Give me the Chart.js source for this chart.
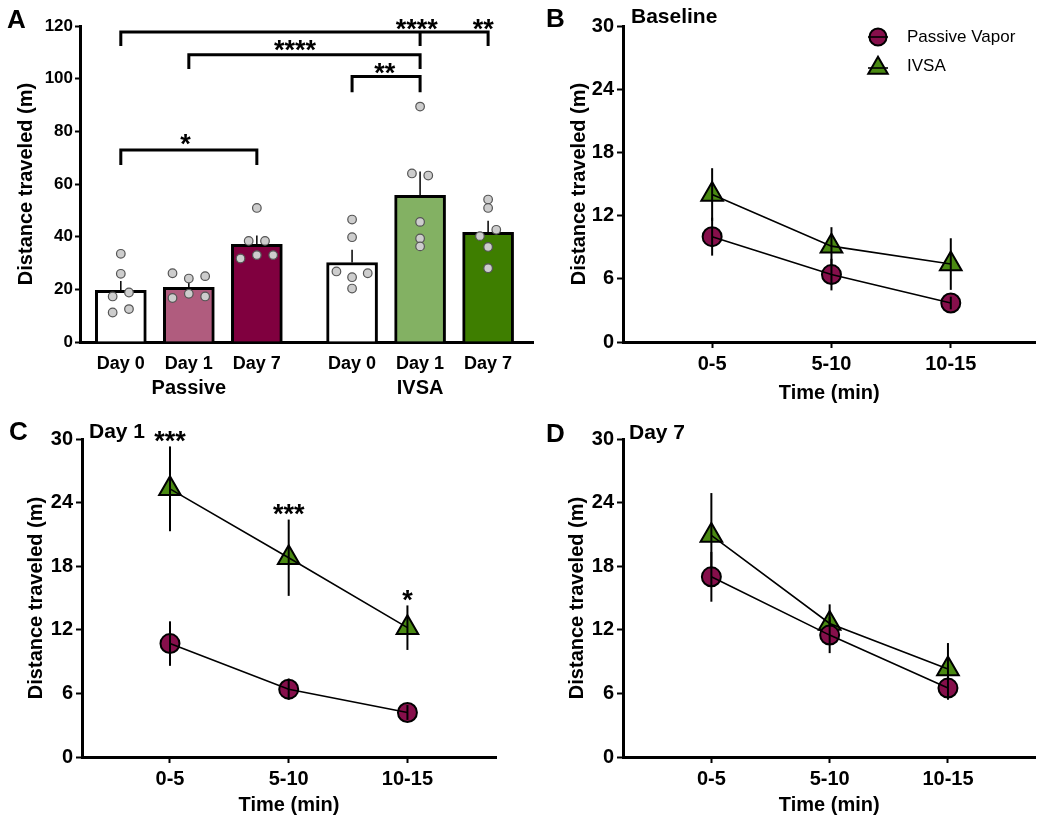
<!DOCTYPE html>
<html>
<head>
<meta charset="utf-8">
<title>Distance traveled</title>
<script src="https://cdn.jsdelivr.net/npm/chart.js@4.4.1/dist/chart.umd.min.js"></script>
<style>
  body { margin: 0; background: #fff; width: 1050px; height: 825px; position: relative; overflow: hidden;
         font-family: "Liberation Sans", Arial, sans-serif; }
  canvas { position: absolute; }
  .letter { position: absolute; font-weight: bold; font-size: 26px; line-height: 26px; }
  .ptitle { position: absolute; font-weight: bold; font-size: 21px; line-height: 21px; }
</style>
</head>
<body>
<canvas id="chartA" width="540" height="405" style="left:0;top:0"></canvas>
<canvas id="chartB" width="520" height="415" style="left:530px;top:0"></canvas>
<canvas id="chartC" width="530" height="415" style="left:0;top:410px"></canvas>
<canvas id="chartD" width="520" height="415" style="left:530px;top:410px"></canvas>

<div class="letter" style="left:7px;top:6px">A</div>
<div class="letter" style="left:546px;top:5px">B</div>
<div class="letter" style="left:9px;top:418px">C</div>
<div class="letter" style="left:546px;top:420px">D</div>
<div class="ptitle" style="left:631px;top:5px">Baseline</div>
<div class="ptitle" style="left:89px;top:420px">Day 1</div>
<div class="ptitle" style="left:629px;top:421px">Day 7</div>

<script>
// ---- panel A: bars ----
const barLabels = ["Day 0", "Day 1", "Day 7", "Day 0", "Day 1", "Day 7"];
const barPositions = [0, 1, 2, 3.4, 4.4, 5.4];
const groupLabels = ["Passive", "IVSA"];
const groupPositions = [1, 4.4];
const barMeans = [19.6, 20.8, 37.1, 30.2, 55.7, 41.6];
const barErrors = [3.6, 1.6, 3.3, 4.8, 9.0, 4.4];
const barColors = ["#ffffff", "#b05c7e", "#80003f", "#ffffff", "#83b163", "#3e7e00"];

// individual animals, with sideways offsets
const dotsP0 = [33.5, 25.9, 17.3, 18.8, 11.2, 12.5];
const jitP0 = [0, 0, -0.12, 0.12, -0.12, 0.12];
const dotsP1 = [26.1, 24.1, 25.0, 16.7, 18.3, 17.3];
const jitP1 = [-0.24, 0, 0.24, -0.24, 0, 0.24];
const dotsP7 = [50.9, 38.4, 38.4, 31.7, 33.0, 33.0];
const jitP7 = [0, -0.12, 0.12, -0.24, 0, 0.24];
const dotsI0 = [46.5, 39.8, 26.8, 26.1, 24.6, 20.3];
const jitI0 = [0, 0, -0.23, 0.23, 0, 0];
const dotsI1 = [89.4, 64.0, 63.2, 45.6, 39.3, 36.3];
const jitI1 = [0, -0.12, 0.12, 0, 0, 0];
const dotsI7 = [54.1, 50.9, 42.6, 40.2, 36.1, 28.0];
const jitI7 = [0, 0, 0.12, -0.12, 0, 0];

// significance brackets (bar indexes, line height, leg end)
const brackets = [
  { bars: [0, 4, 5], top: 117.7, bottom: 113 },
  { bars: [1, 4], top: 109.1, bottom: 104.2 },
  { bars: [3, 4], top: 100.8, bottom: 95.4 },
  { bars: [0, 2], top: 72.9, bottom: 67.8 }
];
const bracketStars = [
  { text: "****", x: 4.35, y: 121.2 },
  { text: "**", x: 5.33, y: 121.2 },
  { text: "****", x: 2.56, y: 113.4 },
  { text: "**", x: 3.88, y: 104.6 },
  { text: "*", x: 0.95, y: 77.5 }
];

// ---- panels B-D: time course ----
const timeLabels = ["0-5", "5-10", "10-15"];
const basePassive = [10.0, 6.4, 3.7];
const basePassiveErr = [1.8, 1.5, 0.6];
const baseIvsa = [14.0, 9.1, 7.4];
const baseIvsaErr = [2.5, 1.8, 2.45];
const day1Passive = [10.7, 6.4, 4.2];
const day1PassiveErr = [2.1, 1.0, 0.7];
const day1Ivsa = [25.3, 18.8, 12.2];
const day1IvsaErr = [4.0, 3.6, 2.1];
const day1Stars = ["***", "***", "*"];
const day7Passive = [17.0, 11.5, 6.5];
const day7PassiveErr = [2.35, 1.7, 1.1];
const day7Ivsa = [20.9, 12.6, 8.3];
const day7IvsaErr = [4.0, 1.8, 2.45];

const PASSIVE = "#860f4b";
const IVSA = "#4a8a12";
const FONT = "'Liberation Sans', Arial, sans-serif";

Chart.defaults.font.family = FONT;
Chart.defaults.color = "#000";
Chart.defaults.animation = false;
Chart.defaults.plugins.legend.display = false;
Chart.defaults.plugins.tooltip.enabled = false;

// error bars drawn right after their own dataset, plus optional stars on top
const errorBars = {
  id: "errorBars",
  afterDatasetDraw(chart, args) {
    const ds = chart.data.datasets[args.index];
    if (!ds.errors) return;
    const ctx = chart.ctx, y = chart.scales.y;
    ctx.save();
    ctx.strokeStyle = "#000";
    ctx.lineWidth = ds.errorWidth || 2;
    args.meta.data.forEach((el, i) => {
      const v = args.meta.controller.getParsed(i).y;
      const top = y.getPixelForValue(v + ds.errors[i]);
      const bot = y.getPixelForValue(ds.errorUpOnly ? v : v - ds.errors[i]);
      ctx.beginPath();
      ctx.moveTo(el.x, top);
      ctx.lineTo(el.x, bot);
      ctx.stroke();
      if (ds.stars && ds.stars[i]) {
        ctx.fillStyle = "#000";
        ctx.font = "bold 27px " + FONT;
        ctx.textAlign = "center";
        ctx.textBaseline = "alphabetic";
        ctx.fillText(ds.stars[i], el.x, top - 12 + 0.56 * 27);
      }
    });
    ctx.restore();
  }
};

const bracketPlugin = {
  id: "brackets",
  afterDatasetsDraw(chart, args, opts) {
    if (!opts.items) return;
    const { ctx, scales: { x, y } } = chart;
    ctx.save();
    ctx.strokeStyle = "#000";
    ctx.lineWidth = 3;
    ctx.lineCap = "square";
    opts.items.forEach(b => {
      const xs = b.bars.map(i => x.getPixelForValue(barPositions[i]));
      const top = y.getPixelForValue(b.top);
      const bot = y.getPixelForValue(b.bottom);
      ctx.beginPath();
      ctx.moveTo(Math.min(...xs), top);
      ctx.lineTo(Math.max(...xs), top);
      xs.forEach(px => { ctx.moveTo(px, top); ctx.lineTo(px, bot); });
      ctx.stroke();
    });
    ctx.fillStyle = "#000";
    ctx.font = "bold 27px " + FONT;
    ctx.textAlign = "center";
    ctx.textBaseline = "alphabetic";
    opts.labels.forEach(l => {
      ctx.fillText(l.text, x.getPixelForValue(l.x), y.getPixelForValue(l.y) + 0.56 * 27);
    });
    ctx.restore();
  }
};

const markerLegend = {
  id: "markerLegend",
  afterDraw(chart, args, opts) {
    if (!opts.show) return;
    const { ctx, chartArea } = chart;
    const cx = chartArea.left + opts.left;
    let yy = chartArea.top + opts.top;
    ctx.save();
    chart.data.datasets.filter(d => d.label).forEach(ds => {
      const sy = yy + (ds.pointStyle === "triangle" ? 2 : 0);
      ctx.fillStyle = ds.pointBackgroundColor;
      ctx.strokeStyle = "#000";
      ctx.lineWidth = 2;
      Chart.helpers.drawPoint(ctx, { pointStyle: ds.pointStyle, radius: ds.pointRadius * 0.9, rotation: 0, borderWidth: 2 }, cx, sy);
      ctx.lineWidth = 1.6;
      ctx.beginPath();
      ctx.moveTo(cx - 10, sy);
      ctx.lineTo(cx + 10, sy);
      ctx.stroke();
      ctx.fillStyle = "#000";
      ctx.font = "17px " + FONT;
      ctx.textAlign = "left";
      ctx.textBaseline = "middle";
      ctx.fillText(ds.label, cx + opts.textGap, yy);
      yy += opts.rowGap;
    });
    ctx.restore();
  }
};

// ---- panel A ----
const dotSets = [[dotsP0, jitP0], [dotsP1, jitP1], [dotsP7, jitP7], [dotsI0, jitI0], [dotsI1, jitI1], [dotsI7, jitI7]];
const dots = [];
dotSets.forEach(([vals, jit], b) => {
  vals.forEach((v, j) => dots.push({ x: barPositions[b] + jit[j], y: v }));
});

new Chart(document.getElementById("chartA"), {
  type: "bar",
  data: {
    datasets: [
      {
        type: "bar",
        data: barPositions.map((x, i) => ({ x: x, y: barMeans[i] })),
        backgroundColor: barColors,
        borderColor: "#000",
        borderWidth: 3,
        barThickness: 51,
        errors: barErrors,
        errorUpOnly: true,
        errorWidth: 1.5,
        order: 2
      },
      {
        type: "scatter",
        data: dots,
        pointRadius: 4.3,
        pointBackgroundColor: "#cdcdcd",
        pointBorderColor: "#555",
        pointBorderWidth: 1.2,
        order: 1
      }
    ]
  },
  options: {
    responsive: false,
    layout: { padding: { top: 26, right: 7, left: 0, bottom: 0 } },
    plugins: { brackets: { items: brackets, labels: bracketStars } },
    scales: {
      x: {
        type: "linear", min: -0.6, max: 6.06, offset: false, weight: 0,
        afterBuildTicks: s => { s.ticks = barPositions.map(v => ({ value: v })); },
        afterFit: s => { s.height = 34; },
        grid: { display: false, drawTicks: false, offset: false },
        border: { display: true, color: "#000", width: 3 },
        ticks: { callback: (v, i) => barLabels[i], autoSkip: false, maxRotation: 0, padding: 11,
                 font: { size: 18, weight: "bold" } }
      },
      x2: {
        type: "linear", position: "bottom", min: -0.6, max: 6.06, offset: false, weight: 1,
        afterBuildTicks: s => { s.ticks = groupPositions.map(v => ({ value: v })); },
        afterFit: s => { s.height = 29; },
        grid: { display: false, drawTicks: false, offset: false },
        border: { display: false },
        ticks: { callback: (v, i) => groupLabels[i], autoSkip: false, maxRotation: 0, padding: 0,
                 font: { size: 20, weight: "bold" } }
      },
      y: {
        min: 0, max: 120,
        afterFit: s => { s.width = 80; },
        ticks: { stepSize: 20, padding: 2, font: { size: 17, weight: "bold" } },
        grid: { drawOnChartArea: false, tickLength: 5, tickWidth: 2, tickColor: "#000" },
        border: { display: true, color: "#000", width: 3 },
        title: { display: true, text: "Distance traveled (m)", font: { size: 20, weight: "bold" },
                 padding: { top: 14, bottom: 0 } }
      }
    }
  },
  plugins: [errorBars, bracketPlugin]
});

// ---- panels B, C, D ----
function linePanel(id, passive, passiveErr, ivsa, ivsaErr, stars, frame) {
  const pts = arr => arr.map((v, i) => ({ x: i, y: v }));
  new Chart(document.getElementById(id), {
    type: "line",
    data: {
      datasets: [
        { label: "Passive Vapor", data: pts(passive), showLine: false, pointStyle: "circle", pointRadius: 9.5,
          pointBackgroundColor: PASSIVE, pointBorderColor: "#000", pointBorderWidth: 2,
          errors: passiveErr, order: 2 },
        { label: "IVSA", data: pts(ivsa), showLine: false, pointStyle: "triangle", pointRadius: 12.5,
          pointBackgroundColor: IVSA, pointBorderColor: "#000", pointBorderWidth: 2,
          errors: ivsaErr, stars: stars, order: 3 },
        { data: pts(passive), borderColor: "#000", borderWidth: 1.6, pointRadius: 0, order: 1 },
        { data: pts(ivsa), borderColor: "#000", borderWidth: 1.6, pointRadius: 0, order: 0 }
      ]
    },
    options: {
      responsive: false,
      layout: { padding: { top: frame.top, right: frame.right, left: 0, bottom: 0 } },
      plugins: { markerLegend: { show: frame.legend, left: 255, top: 11, rowGap: 29, textGap: 29 } },
      scales: {
        x: {
          type: "linear", min: frame.xMin, max: frame.xMax,
          afterBuildTicks: s => { s.ticks = timeLabels.map((_, i) => ({ value: i })); },
          afterFit: s => { s.height = frame.xHeight; },
          grid: { drawOnChartArea: false, tickLength: 6, tickWidth: 2, tickColor: "#000" },
          border: { display: true, color: "#000", width: 3 },
          ticks: { callback: v => timeLabels[v], autoSkip: false, maxRotation: 0, padding: 4,
                   font: { size: 20, weight: "bold" } },
          title: { display: true, text: "Time (min)", font: { size: 20, weight: "bold" },
                   padding: { top: 0, bottom: frame.titlePad } }
        },
        y: {
          min: 0, max: 30,
          afterFit: s => { s.width = frame.yWidth; },
          ticks: { stepSize: 6, padding: 3, font: { size: 20, weight: "bold" } },
          grid: { drawOnChartArea: false, tickLength: 6, tickWidth: 2, tickColor: "#000" },
          border: { display: true, color: "#000", width: 3 },
          title: { display: true, text: "Distance traveled (m)", font: { size: 20, weight: "bold" },
                   padding: { top: frame.yTitlePad, bottom: 0 } }
        }
      }
    },
    plugins: [errorBars, markerLegend]
  });
}

linePanel("chartB", basePassive, basePassiveErr, baseIvsa, baseIvsaErr, null,
  { top: 26, right: 10, yWidth: 93, xHeight: 73, titlePad: 10, yTitlePad: 37, xMin: -0.747, xMax: 2.71, legend: true });
linePanel("chartC", day1Passive, day1PassiveErr, day1Ivsa, day1IvsaErr, day1Stars,
  { top: 29, right: 34, yWidth: 82, xHeight: 68, titlePad: 8, yTitlePad: 24, xMin: -0.741, xMax: 2.746, legend: false });
linePanel("chartD", day7Passive, day7PassiveErr, day7Ivsa, day7IvsaErr, null,
  { top: 29, right: 7, yWidth: 93, xHeight: 68, titlePad: 8, yTitlePad: 35, xMin: -0.747, xMax: 2.74, legend: false });
</script>
</body>
</html>
